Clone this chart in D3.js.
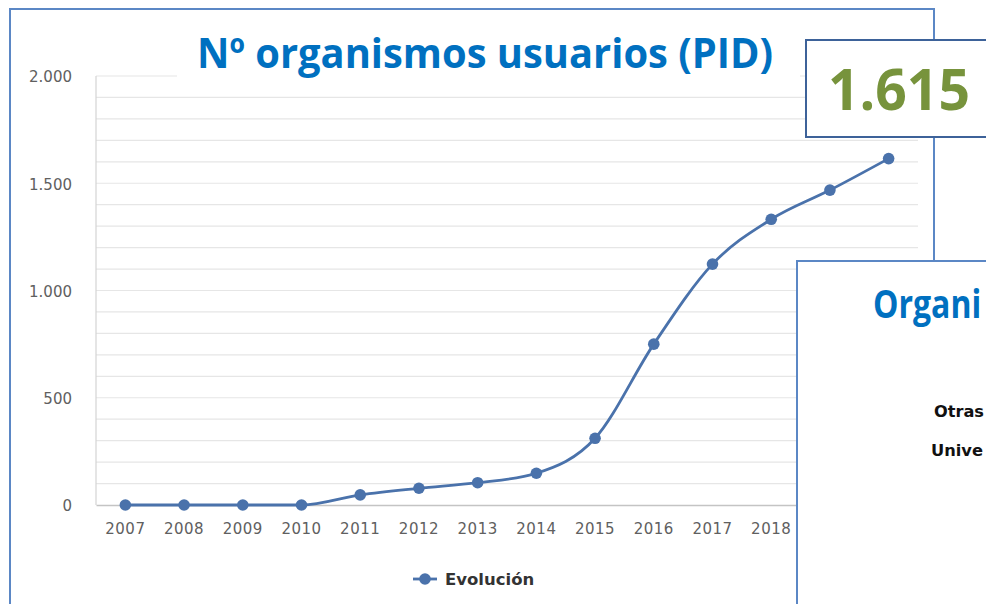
<!DOCTYPE html>
<html>
<head>
<meta charset="utf-8">
<script src="https://cdn.jsdelivr.net/npm/d3@7"></script>
<style>
  html, body { margin: 0; padding: 0; background: #fff; overflow: hidden; }
  svg { display: block; }
</style>
</head>
<body>
<svg id="chart" width="986" height="604"></svg>
<script>
// Yearly count of user organisations
const years = ["2007","2008","2009","2010","2011","2012","2013","2014","2015","2016","2017","2018","2019","2020"];
const organismos = [0, 0, 0, 0, 47, 78, 104, 148, 311, 750, 1123, 1332, 1468, 1615];
const yTicks = [0, 500, 1000, 1500, 2000];
const gridStep = 100;
const seriesName = "Evolución";
const titleText = "Nº organismos usuarios (PID)";
const totalText = "1.615";
const sideTitle = "Organi";
const sideLabels = ["Otras", "Unive"];

const svg = d3.select("#chart");
const blue = "#4a72ab";
const fmt = d3.formatLocale({ decimal: ",", thousands: ".", grouping: [3], currency: ["", "€"] }).format(",d");

// slide frame
svg.append("rect").attr("x", 10).attr("y", 9).attr("width", 924).attr("height", 640)
  .attr("fill", "#fff").attr("stroke", "#5b87c5").attr("stroke-width", 2);

const plot = { left: 96, right: 918, top: 76, bottom: 505 };

const x = d3.scaleBand().domain(years).range([plot.left, plot.right]);
const y = d3.scaleLinear().domain([0, 2000]).range([plot.bottom, plot.top]);

// horizontal gridlines
const gridVals = d3.range(gridStep, 2000 + 1, gridStep);
svg.append("g").selectAll("line").data(gridVals).join("line")
  .attr("x1", plot.left).attr("x2", plot.right)
  .attr("y1", d => y(d)).attr("y2", d => y(d))
  .attr("stroke", "#e6e6e6").attr("stroke-width", 1.2);

// left axis line
svg.append("line").attr("x1", plot.left).attr("x2", plot.left)
  .attr("y1", plot.top).attr("y2", plot.bottom)
  .attr("stroke", "#d4d4d4").attr("stroke-width", 1.2);

// y axis labels
const yAxis = d3.axisLeft(y).tickValues(yTicks).tickSize(0).tickPadding(24).tickFormat(fmt);
const gy = svg.append("g").attr("transform", `translate(${plot.left},1)`).call(yAxis);
gy.select(".domain").remove();
gy.selectAll("text").attr("fill", "#606060").style("font-family", "DejaVu Sans, sans-serif")
  .style("font-size", "15px");

// x axis
const xAxis = d3.axisBottom(x).tickSize(0).tickPadding(18);
const gx = svg.append("g").attr("transform", `translate(0,${plot.bottom})`).call(xAxis);
gx.select(".domain").attr("stroke", "#c4c4c4").attr("stroke-width", 1.5);
gx.selectAll("text").attr("fill", "#606060").style("font-family", "DejaVu Sans, sans-serif")
  .style("font-size", "15px").style("letter-spacing", "0.5px");

// smoothed series line
const line = d3.line()
  .x((d, i) => x(years[i]) + x.bandwidth() / 2)
  .y(d => y(d))
  .curve(d3.curveMonotoneX);
svg.append("path").datum(organismos).attr("d", line)
  .attr("fill", "none").attr("stroke", blue).attr("stroke-width", 2.8);

svg.append("g").selectAll("circle").data(organismos).join("circle")
  .attr("cx", (d, i) => x(years[i]) + x.bandwidth() / 2)
  .attr("cy", d => y(d)).attr("r", 5.8).attr("fill", blue);

// legend
const lg = svg.append("g").attr("transform", "translate(413,579)");
lg.append("line").attr("x1", 0).attr("x2", 24).attr("y1", 0).attr("y2", 0)
  .attr("stroke", blue).attr("stroke-width", 2.8);
lg.append("circle").attr("cx", 12).attr("cy", 0).attr("r", 5.8).attr("fill", blue);
lg.append("text").attr("x", 32).attr("y", 6).text(seriesName)
  .attr("fill", "#333").style("font-family", "DejaVu Sans, sans-serif")
  .style("font-size", "16.5px").style("font-weight", "bold");

// title on a white band
svg.append("rect").attr("x", 177).attr("y", 22).attr("width", 623).attr("height", 60).attr("fill", "#fff");
svg.append("text").attr("x", 197).attr("y", 68).text(titleText)
  .attr("fill", "#0070c0").style("font-family", "Open Sans, sans-serif")
  .style("font-size", "42px").style("font-weight", "bold")
  .attr("textLength", 576).attr("lengthAdjust", "spacingAndGlyphs");

// total box
svg.append("rect").attr("x", 806).attr("y", 40).attr("width", 200).attr("height", 97)
  .attr("fill", "#fff").attr("stroke", "#3d6299").attr("stroke-width", 2);
svg.append("text").attr("x", 828).attr("y", 110).text(totalText)
  .attr("fill", "#77933c").style("font-family", "Open Sans, sans-serif")
  .style("font-size", "58px").style("font-weight", "bold")
  .attr("textLength", 142).attr("lengthAdjust", "spacingAndGlyphs");

// neighbouring panel
svg.append("rect").attr("x", 797).attr("y", 261).attr("width", 220).attr("height", 400)
  .attr("fill", "#fff").attr("stroke", "#5b87c5").attr("stroke-width", 2);
svg.append("text").attr("transform", "translate(873,318) scale(0.8,1)").text(sideTitle)
  .attr("fill", "#0070c0").style("font-family", "Open Sans, sans-serif")
  .style("font-size", "40px").style("font-weight", "bold");
svg.append("text").attr("x", 934).attr("y", 417).text(sideLabels[0])
  .attr("fill", "#111").style("font-family", "DejaVu Sans, sans-serif")
  .style("font-size", "16px").style("font-weight", "bold")
  .attr("textLength", 50).attr("lengthAdjust", "spacingAndGlyphs");
svg.append("text").attr("x", 931).attr("y", 456).text(sideLabels[1])
  .attr("fill", "#111").style("font-family", "DejaVu Sans, sans-serif")
  .style("font-size", "16px").style("font-weight", "bold")
  .attr("textLength", 52).attr("lengthAdjust", "spacingAndGlyphs");
</script>
</body>
</html>
